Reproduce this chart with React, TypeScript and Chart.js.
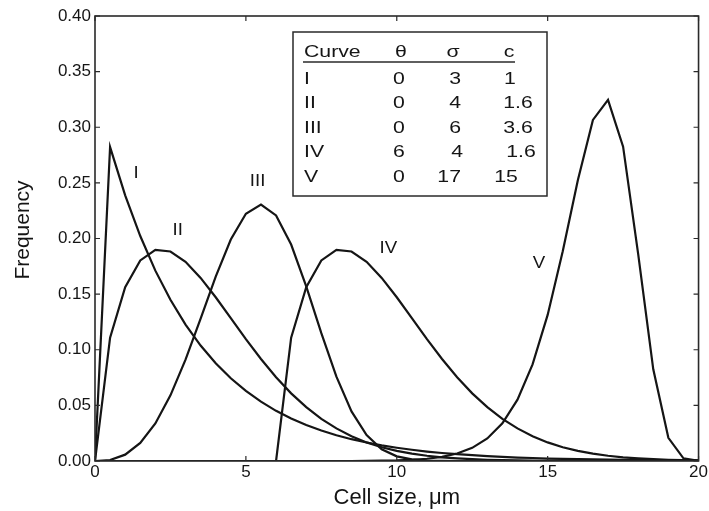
import React, { useEffect, useRef } from 'react';
import { Chart, registerables } from 'chart.js';

Chart.register(...registerables);

const xValues = [
  0, 0.5, 1, 1.5, 2, 2.5, 3, 3.5, 4, 4.5, 5, 5.5, 6, 6.5, 7, 7.5, 8, 8.5, 9, 9.5, 10,
  10.5, 11, 11.5, 12, 12.5, 13, 13.5, 14, 14.5, 15, 15.5, 16, 16.5, 17, 17.5, 18, 18.5, 19, 19.5, 20,
];

const curveI = [
  0, 0.2822, 0.2388, 0.2022, 0.1711, 0.1449, 0.1226, 0.1038, 0.0879, 0.0744, 0.063, 0.0533, 0.0451,
  0.0382, 0.0323, 0.0274, 0.0232, 0.0196, 0.0166, 0.014, 0.0119, 0.0101, 0.0085, 0.0072, 0.0061,
  0.0052, 0.0044, 0.0037, 0.0031, 0.0027, 0.0022, 0.0019, 0.0016, 0.0014, 0.0012, 0.001, 0.0008,
  0.0007, 0.0006, 0.0005, 0.0004,
];

const curveII = [
  0, 0.1108, 0.1562, 0.1803, 0.1898, 0.1883, 0.1791, 0.1646, 0.1472, 0.1284, 0.1095, 0.0917, 0.0753,
  0.0608, 0.0484, 0.0379, 0.0293, 0.0223, 0.0167, 0.0124, 0.0091, 0.0066, 0.0047, 0.0033, 0.0023,
  0.0016, 0.0011, 0.0008, 0.0005, 0.0003, 0.0002, 0.0001, 0.0001, 0.0001, 0, 0, 0, 0, 0, 0, 0,
];

const curveIII = [
  0, 0.0009, 0.0057, 0.0162, 0.0338, 0.059, 0.0911, 0.128, 0.1657, 0.1991, 0.2223, 0.2304, 0.2207,
  0.1946, 0.157, 0.1149, 0.0758, 0.0446, 0.0233, 0.0106, 0.0042, 0.0014, 0.0004, 0.0001, 0, 0, 0, 0,
  0, 0, 0, 0, 0, 0, 0, 0, 0, 0, 0, 0, 0,
];

const curveIV = [
  null, null, null, null, null, null, null, null, null, null, null, null, 0, 0.1108, 0.1562, 0.1803,
  0.1898, 0.1883, 0.1791, 0.1646, 0.1472, 0.1284, 0.1095, 0.0917, 0.0753, 0.0608, 0.0484, 0.0379,
  0.0293, 0.0223, 0.0167, 0.0124, 0.0091, 0.0066, 0.0047, 0.0033, 0.0023, 0.0016, 0.0011, 0.0008,
  0.0005,
];

const curveV = [
  0, 0, 0, 0, 0, 0, 0, 0, 0, 0, 0, 0, 0, 0, 0, 0, 0, 0, 0.0001, 0.0003, 0.0005, 0.001, 0.002, 0.0037,
  0.0067, 0.0118, 0.0203, 0.0339, 0.0551, 0.0868, 0.1313, 0.1885, 0.2524, 0.3066, 0.3246, 0.2825,
  0.186, 0.0824, 0.0208, 0.0024, 0.0001,
];

const curveNames = ['I', 'II', 'III', 'IV', 'V'];
const thetaValues = ['0', '0', '0', '6', '0'];
const sigmaValues = ['3', '4', '6', '4', '17'];
const cValues = ['1', '1.6', '3.6', '1.6', '15'];
const tableHeader = ['Curve', 'θ', 'σ', 'c'];

const xTicks = [0, 5, 10, 15, 20];
const xTickLabels = ['0', '5', '10', '15', '20'];
const yTicks = [0, 0.05, 0.1, 0.15, 0.2, 0.25, 0.3, 0.35, 0.4];
const yTickLabels = ['0.00', '0.05', '0.10', '0.15', '0.20', '0.25', '0.30', '0.35', '0.40'];

const xTitle = 'Cell size, μm';
const yTitle = 'Frequency';

// ---- layout / style (not data) ----
const FONT = '"Liberation Sans", Arial, Helvetica, sans-serif';
const INK = '#151515';
const FRAME = '#2a2a2a';
// curve label anchor positions in data units
const labelAnchors = [
  [1.36, 0.259],
  [2.74, 0.207],
  [5.39, 0.251],
  [9.72, 0.191],
  [14.71, 0.178],
];
// table geometry in px relative to chart area top-left
const TABLE = {
  left: 198,
  top: 16,
  right: 452,
  bottom: 180,
  headerY: 36.5,
  rowY: [63, 87.5, 112, 136.5, 161],
  underlineY: 46,
  underlineX0: 208,
  underlineX1: 420,
  nameX: 209,
  thetaX: 304,
  sigmaRightX: [366, 366, 366, 368, 366],
  cCenterX: [415, 423, 423, 426, 411],
  headerX: [209, 306, 358, 414],
  stretch: 1.25,
};

function drawStretched(ctx: CanvasRenderingContext2D, text: string, x: number, y: number, align: CanvasTextAlign, sx: number) {
  ctx.save();
  ctx.translate(x, y);
  ctx.scale(sx, 1);
  ctx.textAlign = align;
  ctx.fillText(text, 0, 0);
  ctx.restore();
}

const overlayPlugin = {
  id: 'overlay',
  afterDraw(chart: any) {
    const { ctx, chartArea } = chart;
    const { left, top, right, bottom } = chartArea;
    const xs = chart.scales.x;
    const ys = chart.scales.y;
    ctx.save();

    // frame
    ctx.strokeStyle = FRAME;
    ctx.lineWidth = 1.6;
    ctx.strokeRect(left, top, right - left, bottom - top);

    // inward ticks
    const tl = 5;
    ctx.beginPath();
    xTicks.forEach((v) => {
      const px = xs.getPixelForValue(v);
      ctx.moveTo(px, bottom);
      ctx.lineTo(px, bottom - tl);
      ctx.moveTo(px, top);
      ctx.lineTo(px, top + tl);
    });
    yTicks.forEach((v) => {
      const py = ys.getPixelForValue(v);
      ctx.moveTo(left, py);
      ctx.lineTo(left + tl, py);
      ctx.moveTo(right, py);
      ctx.lineTo(right - tl, py);
    });
    ctx.lineWidth = 1.2;
    ctx.stroke();

    // curve labels
    ctx.fillStyle = INK;
    ctx.font = `17px ${FONT}`;
    ctx.textBaseline = 'middle';
    curveNames.forEach((name, i) => {
      const [dx, dy] = labelAnchors[i];
      drawStretched(ctx, name, xs.getPixelForValue(dx), ys.getPixelForValue(dy), 'center', 1.1);
    });

    // parameter table
    const ox = left;
    const oy = top;
    ctx.strokeStyle = FRAME;
    ctx.lineWidth = 1.5;
    ctx.strokeRect(ox + TABLE.left, oy + TABLE.top, TABLE.right - TABLE.left, TABLE.bottom - TABLE.top);
    ctx.beginPath();
    ctx.moveTo(ox + TABLE.underlineX0, oy + TABLE.underlineY);
    ctx.lineTo(ox + TABLE.underlineX1, oy + TABLE.underlineY);
    ctx.lineWidth = 1.3;
    ctx.stroke();

    const sx = TABLE.stretch;
    ctx.font = `17px ${FONT}`;
    ctx.textBaseline = 'middle';
    tableHeader.forEach((h, i) => {
      drawStretched(ctx, h, ox + TABLE.headerX[i], oy + TABLE.headerY, i === 0 ? 'left' : 'center', sx);
    });
    curveNames.forEach((name, i) => {
      const y = oy + TABLE.rowY[i];
      drawStretched(ctx, name, ox + TABLE.nameX, y, 'left', sx);
      drawStretched(ctx, thetaValues[i], ox + TABLE.thetaX, y, 'center', sx);
      drawStretched(ctx, sigmaValues[i], ox + TABLE.sigmaRightX[i], y, 'right', sx);
      drawStretched(ctx, cValues[i], ox + TABLE.cCenterX[i], y, 'center', sx);
    });

    // y-axis title
    ctx.save();
    ctx.translate(23, 230);
    ctx.rotate(-Math.PI / 2);
    ctx.font = `21px ${FONT}`;
    ctx.textAlign = 'center';
    ctx.textBaseline = 'middle';
    ctx.fillText(yTitle, 0, 0);
    ctx.restore();

    ctx.restore();
  },
};

export default function App() {
  const canvasRef = useRef<HTMLCanvasElement | null>(null);

  useEffect(() => {
    document.body.style.margin = '0';
    const canvas = canvasRef.current;
    if (!canvas) return;

    const mk = (vals: (number | null)[]) => vals.map((y, i) => ({ x: xValues[i], y }));
    const series = [curveI, curveII, curveIII, curveIV, curveV];

    const chart = new Chart(canvas, {
      type: 'line',
      data: {
        datasets: series.map((s, i) => ({
          label: curveNames[i],
          data: mk(s) as any,
          borderColor: INK,
          borderWidth: 2.2,
          pointRadius: 0,
          tension: 0,
          fill: false,
          spanGaps: false,
        })),
      },
      options: {
        animation: false,
        responsive: false,
        maintainAspectRatio: false,
        layout: { padding: { top: 16, right: 9, left: 0, bottom: 0 } },
        plugins: {
          legend: { display: false },
          tooltip: { enabled: false },
        },
        scales: {
          x: {
            type: 'linear',
            min: 0,
            max: 20,
            afterBuildTicks: (scale: any) => {
              scale.ticks = xTicks.map((v) => ({ value: v }));
            },
            afterFit: (scale: any) => {
              scale.height = 50;
            },
            grid: { display: false, drawTicks: false },
            border: { display: false },
            ticks: {
              autoSkip: false,
              maxRotation: 0,
              padding: 1,
              color: INK,
              font: { family: FONT, size: 17 },
              callback: (_v: any, i: number) => xTickLabels[i],
            },
            title: {
              display: true,
              text: xTitle,
              color: INK,
              font: { family: FONT, size: 22 },
              padding: { top: 0, bottom: 0 },
            },
          },
          y: {
            type: 'linear',
            min: 0,
            max: 0.4,
            afterBuildTicks: (scale: any) => {
              scale.ticks = yTicks.map((v) => ({ value: v }));
            },
            afterFit: (scale: any) => {
              scale.width = 95;
            },
            grid: { display: false, drawTicks: false },
            border: { display: false },
            ticks: {
              autoSkip: false,
              padding: 4,
              color: INK,
              font: { family: FONT, size: 17 },
              callback: (_v: any, i: number) => yTickLabels[i],
            },
            title: { display: false },
          },
        },
      },
      plugins: [overlayPlugin],
    });

    return () => chart.destroy();
  }, []);

  return (
    <div style={{ width: 709, height: 511 }}>
      <canvas ref={canvasRef} width={709} height={511} style={{ display: 'block' }} />
    </div>
  );
}
